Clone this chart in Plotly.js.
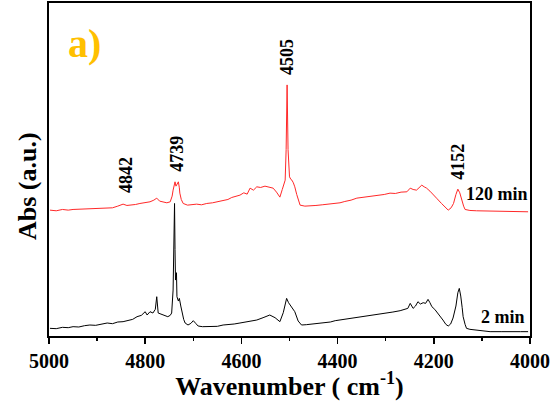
<!DOCTYPE html>
<html><head><meta charset="utf-8">
<script src="https://cdn.plot.ly/plotly-3.0.1.min.js"></script>
<style>html,body{margin:0;padding:0;background:#fff}#chart{width:559px;height:401px}</style>
</head><body><div id="chart"></div>
<script>
// 2 min spectrum (black)
const wn2 = [4998,4985,4972,4960,4950,4938,4926,4915,4903,4891,4879,4868,4857,4846,4835,4826,4817,4808,4800,4796,4790,4784,4779,4776,4773,4768,4763,4758,4753,4748,4745,4742,4740,4739,4738,4737,4735,4734,4731,4729,4726,4724,4720,4717,4711,4705,4700,4695,4690,4681,4672,4660,4650,4638,4625,4615,4603,4590,4580,4568,4555,4545,4541,4530,4520,4513,4508,4506,4502,4499,4494,4489,4482,4475,4465,4450,4440,4430,4415,4405,4395,4380,4370,4360,4345,4335,4326,4312,4298,4285,4270,4260,4254,4249,4243,4238,4233,4228,4222,4217,4212,4208,4204,4198,4191,4186,4181,4175,4170,4165,4160,4154,4150,4147,4144,4141,4139,4135,4132,4125,4111,4095,4083,4060,4040,4020,4004];
const abs2 = [0.023,0.022,0.026,0.025,0.028,0.027,0.031,0.033,0.032,0.036,0.039,0.037,0.042,0.043,0.046,0.050,0.058,0.062,0.073,0.063,0.073,0.069,0.080,0.118,0.069,0.066,0.063,0.060,0.058,0.062,0.069,0.138,0.300,0.398,0.260,0.168,0.190,0.118,0.105,0.113,0.090,0.073,0.050,0.039,0.033,0.038,0.046,0.038,0.030,0.028,0.028,0.030,0.029,0.033,0.034,0.036,0.039,0.042,0.043,0.048,0.055,0.060,0.063,0.055,0.043,0.070,0.105,0.113,0.100,0.093,0.085,0.073,0.045,0.033,0.034,0.036,0.037,0.040,0.042,0.046,0.048,0.051,0.053,0.056,0.058,0.061,0.063,0.065,0.068,0.072,0.076,0.080,0.083,0.098,0.083,0.090,0.103,0.096,0.100,0.098,0.110,0.100,0.088,0.080,0.068,0.060,0.048,0.035,0.030,0.036,0.054,0.090,0.130,0.143,0.120,0.085,0.058,0.035,0.023,0.020,0.018,0.015,0.013,0.013,0.012,0.013,0.013];
// 120 min spectrum (red)
const wn120 = [4998,4985,4972,4960,4950,4938,4926,4915,4903,4891,4879,4868,4857,4846,4838,4828,4820,4811,4800,4790,4782,4776,4770,4763,4755,4748,4744,4742,4740,4738,4736,4735,4733,4731,4729,4728,4725,4721,4712,4703,4693,4683,4672,4660,4650,4638,4628,4620,4610,4603,4595,4588,4582,4575,4568,4560,4551,4542,4534,4527,4520,4515,4509,4507,4505,4503,4500,4497,4495,4492,4489,4485,4482,4478,4468,4457,4445,4432,4420,4408,4395,4385,4372,4360,4348,4337,4326,4315,4303,4291,4280,4268,4256,4249,4243,4236,4230,4225,4220,4215,4208,4201,4193,4184,4177,4170,4164,4159,4154,4150,4146,4142,4138,4135,4125,4111,4090,4070,4050,4030,4004];
const abs120 = [0.378,0.376,0.380,0.378,0.380,0.381,0.380,0.383,0.384,0.383,0.386,0.385,0.390,0.396,0.392,0.393,0.395,0.398,0.400,0.403,0.408,0.414,0.405,0.403,0.400,0.403,0.420,0.438,0.455,0.463,0.450,0.453,0.460,0.463,0.445,0.429,0.410,0.398,0.393,0.395,0.396,0.394,0.398,0.400,0.403,0.408,0.410,0.416,0.420,0.423,0.430,0.426,0.444,0.438,0.448,0.446,0.450,0.447,0.444,0.432,0.417,0.440,0.468,0.560,0.754,0.560,0.478,0.470,0.468,0.460,0.448,0.425,0.408,0.393,0.390,0.390,0.392,0.394,0.396,0.398,0.400,0.404,0.408,0.414,0.416,0.418,0.420,0.423,0.425,0.429,0.428,0.432,0.433,0.444,0.440,0.438,0.446,0.453,0.448,0.444,0.435,0.423,0.412,0.398,0.388,0.378,0.385,0.398,0.425,0.441,0.430,0.408,0.390,0.380,0.377,0.376,0.375,0.374,0.374,0.373,0.373];
// peak labels
const peakLabels = ["4842","4739","4505","4152"];
const peakX = [4840,4734,4505,4150];
const peakY = [0.483,0.547,0.838,0.523];
const seriesNames = ["2 min","120 min"];

const serif = "'Times New Roman', 'Liberation Serif', serif";
const traces = [
  {x: wn2, y: abs2, type: 'scatter', mode: 'lines', name: seriesNames[0], line: {color: '#000000', width: 1}},
  {x: wn120, y: abs120, type: 'scatter', mode: 'lines', name: seriesNames[1], line: {color: '#ff2828', width: 1}}
];
const b = t => '<b>' + t + '</b>';
const annotations = peakLabels.map((t, i) => ({
  x: peakX[i], y: peakY[i], xref: 'x', yref: 'y', text: b(t), showarrow: false, textangle: -90,
  font: {family: serif, size: 18, color: '#000'}
}));
annotations.push({x: 4069, y: 0.426, xref: 'x', yref: 'y', text: b(seriesNames[1]), showarrow: false,
  font: {family: serif, size: 18, color: '#000'}});
annotations.push({x: 4056, y: 0.057, xref: 'x', yref: 'y', text: b(seriesNames[0]), showarrow: false,
  font: {family: serif, size: 18, color: '#000'}});
annotations.push({x: 4927, y: 0.877, xref: 'x', yref: 'y', text: b('a)'), showarrow: false,
  font: {family: serif, size: 40, color: '#FFC000'}});
// y-axis title
annotations.push({x: 28, y: 186, xref: 'paper', yref: 'paper', xanchor: 'center', yanchor: 'middle',
  text: b('Abs (a.u.)'), showarrow: false, textangle: -90,
  font: {family: serif, size: 26, color: '#000'}});

const layout = {
  width: 559, height: 401,
  margin: {l: 49, r: 29, t: 3, b: 65},
  paper_bgcolor: '#fff', plot_bgcolor: '#fff',
  showlegend: false,
  font: {family: serif},
  xaxis: {
    range: [5000, 4000], showline: true, mirror: true, linecolor: '#000', linewidth: 1.6,
    showgrid: false, zeroline: false, ticks: 'outside', ticklen: 6, tickwidth: 1.5, tickcolor: '#000',
    dtick: 200, tick0: 4000,
    minor: {dtick: 100, ticks: 'outside', ticklen: 3, tickwidth: 1.5, tickcolor: '#000'},
    tickfont: {family: serif, size: 20, color: '#000', weight: 'bold'},
    title: {text: b('Wavenumber ( cm<sup>-1</sup>)'), font: {family: serif, size: 26, color: '#000'}, standoff: 2}
  },
  yaxis: {
    range: [0, 1], showline: true, mirror: true, linecolor: '#000', linewidth: 1.6,
    showgrid: false, zeroline: false, ticks: '', showticklabels: false
  },
  annotations: annotations
};
// convert y-title pixel position to paper coords
const pw = 559 - 49 - 29, ph = 401 - 3 - 65;
const yt = annotations[annotations.length - 1];
yt.x = (yt.x - 49) / pw; yt.y = (401 - 65 - yt.y) / ph;
Plotly.newPlot('chart', traces, layout, {displayModeBar: false, staticPlot: true});
</script></body></html>
